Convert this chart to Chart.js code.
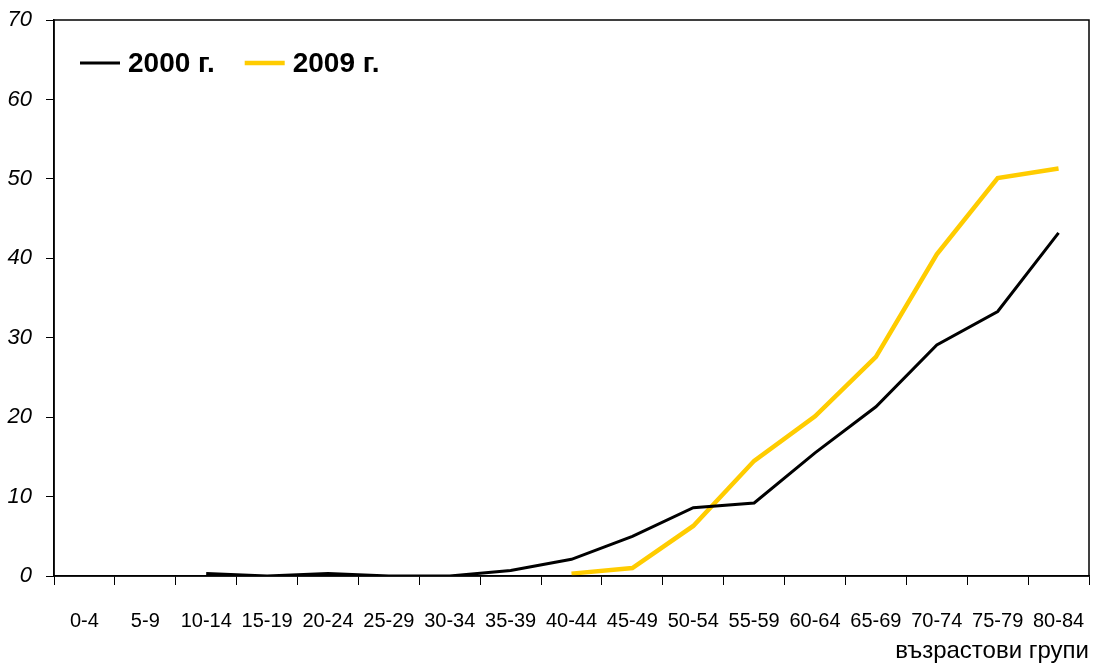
<!DOCTYPE html>
<html>
<head>
<meta charset="utf-8">
<script src="https://cdn.jsdelivr.net/npm/chart.js@4/dist/chart.umd.min.js"></script>
<style>
    html, body { margin: 0; padding: 0; background: #fff; }
    #wrap { width: 1093px; height: 666px; }
</style>
</head>
<body>
<div id="wrap"><canvas id="ageChart" width="1093" height="666"></canvas></div>
<script>
// age groups and rates
var ageGroups = ["0-4", "5-9", "10-14", "15-19", "20-24", "25-29", "30-34", "35-39", "40-44",
    "45-49", "50-54", "55-59", "60-64", "65-69", "70-74", "75-79", "80-84"]
var values2000 = [null, null, 0.3, 0, 0.3, 0, 0, 0.7, 2.1, 5.0, 8.6, 9.2, 15.5, 21.3, 29.1, 33.3, 43.2]
var values2009 = [null, null, null, null, null, null, null, null, 0.3, 1.0, 6.3, 14.5, 20.1, 27.6, 40.5, 50.1, 51.3]
var yTicks = [0, 10, 20, 30, 40, 50, 60, 70]

var sans = "'Liberation Sans', Arial, sans-serif"

// box around the plot area
var frame = {
    id: "frame",
    afterDraw: function (chart) {
        var a = chart.chartArea
        var ctx = chart.ctx
        ctx.save()
        ctx.strokeStyle = "#000"
        ctx.lineWidth = 1.5
        ctx.strokeRect(a.left, a.top, a.right - a.left, a.bottom - a.top)
        ctx.restore()
    },
}

// legend in one row inside the plot area (chartArea legend would stack)
var inlineLegend = {
    id: "inlineLegend",
    afterDraw: function (chart) {
        var a = chart.chartArea
        var ctx = chart.ctx
        var x = a.left + 26
        var y = a.top + 43
        ctx.save()
        ctx.font = "bold 28px " + sans
        ctx.textBaseline = "middle"
        ctx.fillStyle = "#000"
        chart.data.datasets.forEach(function (ds) {
            ctx.strokeStyle = ds.borderColor
            ctx.lineWidth = ds.borderWidth
            ctx.beginPath()
            ctx.moveTo(x, y)
            ctx.lineTo(x + 40, y)
            ctx.stroke()
            ctx.fillText(ds.label, x + 48, y + 1)
            x += 48 + ctx.measureText(ds.label).width + 30
        })
        ctx.restore()
    },
}

new Chart("ageChart", {
    type: "line",
    data: {
        labels: ageGroups,
        datasets: [
            {
                label: "2000 г.",
                data: values2000,
                borderColor: "#000",
                backgroundColor: "#000",
                borderWidth: 3,
                pointRadius: 0,
                fill: false,
                tension: 0,
            },
            {
                label: "2009 г.",
                data: values2009,
                borderColor: "#ffcc00",
                backgroundColor: "#ffcc00",
                borderWidth: 4.5,
                pointRadius: 0,
                fill: false,
                tension: 0,
            },
        ],
    },
    options: {
        responsive: false,
        animation: false,
        layout: { padding: { top: 20, right: 4, left: 0, bottom: 0 } },
        plugins: {
            legend: { display: false },
            tooltip: { enabled: false },
        },
        scales: {
            x: {
                offset: true,
                grid: {
                    offset: true,
                    drawOnChartArea: false,
                    color: "#000",
                    tickLength: 9,
                    tickColor: "#000",
                },
                border: { color: "#000", width: 1.5 },
                ticks: {
                    color: "#000",
                    padding: 24,
                    maxRotation: 0,
                    autoSkip: false,
                    font: { family: sans, size: 20 },
                },
                title: {
                    display: true,
                    text: "възрастови групи",
                    align: "end",
                    color: "#000",
                    padding: { top: 0, bottom: 0 },
                    font: { family: sans, size: 24 },
                },
                afterFit: function (scale) {
                    scale.height = 90
                    scale.paddingLeft = 0
                    scale.paddingRight = 0
                },
            },
            y: {
                min: 0,
                max: 70,
                afterBuildTicks: function (scale) {
                    scale.ticks = yTicks.map(function (v) { return { value: v } })
                },
                grid: {
                    drawOnChartArea: false,
                    color: "#000",
                    tickLength: 8,
                    tickColor: "#000",
                },
                border: { color: "#000", width: 1.5 },
                ticks: {
                    color: "#000",
                    padding: 14,
                    font: { family: sans, size: 22, style: "italic" },
                },
                afterFit: function (scale) {
                    scale.width = 54
                    scale.paddingTop = 0
                    scale.paddingBottom = 0
                },
            },
        },
    },
    plugins: [frame, inlineLegend],
})
</script>
</body>
</html>
